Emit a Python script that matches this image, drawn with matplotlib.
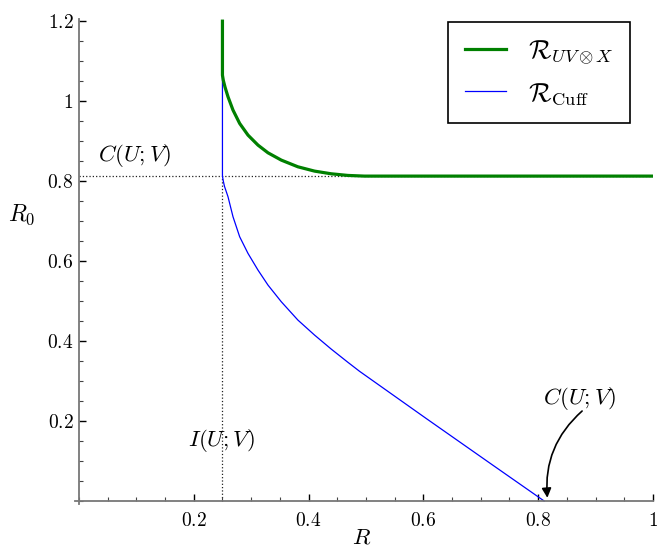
import numpy as np
import matplotlib
matplotlib.use("Agg")
import matplotlib.pyplot as plt
from matplotlib.ticker import MultipleLocator, FuncFormatter

plt.rcParams['mathtext.fontset'] = 'cm'
plt.rcParams['font.family'] = 'serif'
plt.rcParams['font.serif'] = ['DejaVu Serif']

# values
C_UV = 0.8125
I_UV = 0.25

green_x = [0.25, 0.25, 0.2515, 0.2545, 0.2597, 0.2684, 0.28, 0.2945, 0.3119, 0.3293, 0.3525,
           0.3814, 0.4104, 0.4394, 0.4684, 0.4974, 1.0]
green_y = [1.2, 1.065, 1.052, 1.035, 1.0108, 0.9775, 0.9442, 0.915, 0.89, 0.8708, 0.8525,
           0.8358, 0.825, 0.8183, 0.8142, 0.8125, 0.8125]

blue_x = [0.25, 0.25, 0.2515, 0.2535, 0.2597, 0.2684, 0.28, 0.2945, 0.3119, 0.3293, 0.3525,
          0.3814, 0.4104, 0.4394, 0.4684, 0.4887, 0.6046, 0.7206, 0.8104]
blue_y = [1.065, 0.8125, 0.80, 0.787, 0.7608, 0.7108, 0.6608, 0.6192, 0.5775, 0.54, 0.4983,
          0.4525, 0.415, 0.380, 0.347, 0.3245, 0.2067, 0.09, 0.0]

x_ticks = [0.2, 0.4, 0.6, 0.8, 1.0]
y_ticks = [0.2, 0.4, 0.6, 0.8, 1.0, 1.2]

fig = plt.figure(figsize=(6.57, 5.49), dpi=100)
ax = fig.add_axes([0.1149, 0.0816, 0.8790, 0.8835])
ax.set_xlim(-0.006, 1.0)
ax.set_ylim(-0.008, 1.205)

# dotted guides
ax.plot([0, 1.0], [C_UV, C_UV], color='#222222', ls=':', lw=0.9, zorder=1)
ax.plot([I_UV, I_UV], [0, C_UV], color='#222222', ls=':', lw=0.9, zorder=1)

ax.plot(green_x, green_y, color='green', lw=2.3, label=r'$\mathcal{R}_{UV\otimes X}$', zorder=3)
ax.plot(blue_x, blue_y, color='blue', lw=0.9, label=r'$\mathcal{R}_{\mathrm{Cuff}}$', zorder=2)

# axes crossing at the origin, sage style
for s in ['top', 'right']:
    ax.spines[s].set_visible(False)
for s in ['left', 'bottom']:
    ax.spines[s].set_position(('data', 0))
    ax.spines[s].set_color('#777777')
    ax.spines[s].set_linewidth(1.3)
ax.spines['left'].set_bounds(-0.008, 1.205)
ax.spines['bottom'].set_bounds(-0.006, 1.0)

ax.set_xticks(x_ticks)
ax.set_yticks(y_ticks)
ax.xaxis.set_minor_locator(MultipleLocator(0.05))
ax.yaxis.set_minor_locator(MultipleLocator(0.05))
fmt = FuncFormatter(lambda v, p: '$%g$' % round(v, 2))
ax.xaxis.set_major_formatter(fmt)
ax.yaxis.set_major_formatter(fmt)
ax.tick_params(which='major', direction='in', length=5, width=1, color='black', labelsize=14)
ax.tick_params(which='minor', direction='in', length=3, width=0.8, color='#444444')
ax.tick_params(axis='x', which='major', pad=8)
ax.tick_params(axis='y', which='major', pad=4)

ax.text(0.0974, 0.865, r'$C(U;V)$', fontsize=16.5, ha='center', va='center')
ax.text(0.2487, 0.1525, r'$I(U;V)$', fontsize=16.5, ha='center', va='center')
ax.text(0.873, 0.2575, r'$C(U;V)$', fontsize=16.5, ha='center', va='center')
ax.annotate('', xy=(0.816, 0.008), xytext=(0.8765, 0.225),
            arrowprops=dict(arrowstyle='-|>', color='black', lw=1.2,
                            connectionstyle='arc3,rad=0.25', shrinkA=0, shrinkB=0,
                            mutation_scale=14))

fig.text(362 / 657, 1 - 538 / 549, r'$R$', fontsize=16.5, ha='center', va='center')
fig.text(22 / 657, 1 - 215 / 549, r'$R_0$', fontsize=17, ha='center', va='center')

leg = ax.legend(loc='upper right', bbox_to_anchor=(630 / 657, 1 - 22 / 549),
                bbox_transform=fig.transFigure, borderaxespad=0, fontsize=19,
                fancybox=False, framealpha=1, edgecolor='black', handlelength=1.55,
                labelspacing=0.5, borderpad=0.62, handletextpad=0.85)
leg.get_frame().set_linewidth(1.2)

fig.savefig('out.png', dpi=100)
